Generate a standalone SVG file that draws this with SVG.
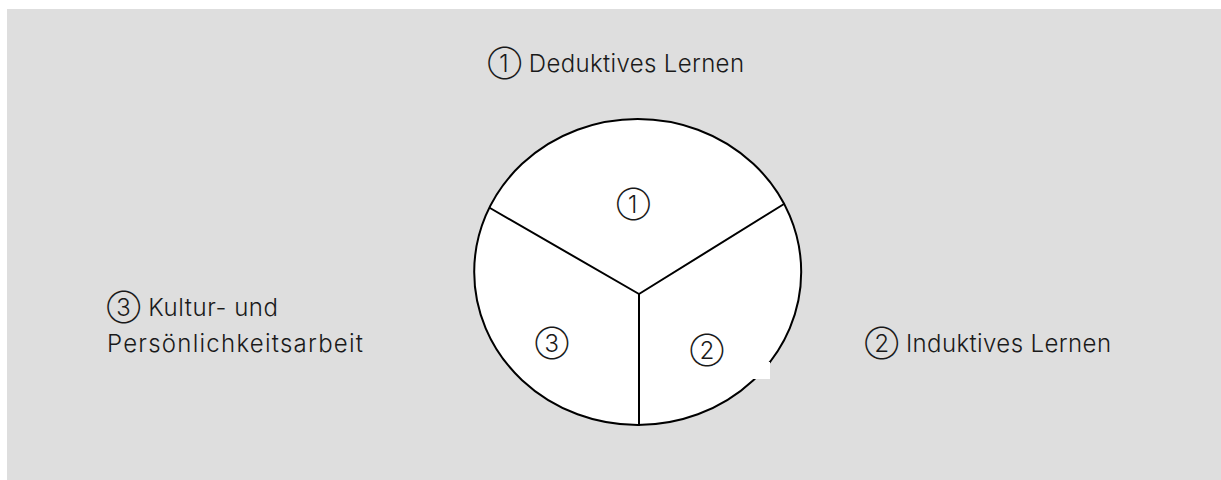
<svg xmlns="http://www.w3.org/2000/svg" width="1221" height="480" viewBox="0 0 1221 480">
  <style>
    .lbl { font-family: "Inter", "Liberation Sans", "DejaVu Sans", sans-serif; font-weight: 300; font-size: 24px; fill: #1a1a1a; }
    .num { font-family: "Inter", "Liberation Sans", "DejaVu Sans", sans-serif; font-weight: 300; font-size: 24px; fill: #1a1a1a; text-anchor: middle; dominant-baseline: central; }
    .edge { stroke: #000; stroke-width: 2; fill: none; stroke-linecap: round; }
  </style>
  <rect x="7" y="9" width="1214" height="471" fill="#dedede"/>
  <g id="pie">
    <ellipse cx="637.7" cy="272" rx="163.5" ry="153" fill="#fff" stroke="#000" stroke-width="2"/>
    <rect x="750" y="362" width="20" height="17" fill="#fff"/>
  </g>
  <g id="connectors">
    <line class="edge" x1="639" y1="294" x2="490" y2="208"/>
    <line class="edge" x1="639" y1="294" x2="784" y2="204"/>
    <line class="edge" x1="639" y1="294" x2="639" y2="425"/>
  </g>
  <g id="seg1"><text class="num" x="633.5" y="204">①</text></g>
  <g id="seg2"><text class="num" x="707" y="350">②</text></g>
  <g id="seg3"><text class="num" x="552" y="343">③</text></g>
  <g id="label1"><text class="lbl" x="488" y="72" textLength="256" lengthAdjust="spacing">① Deduktives Lernen</text></g>
  <g id="label2"><text class="lbl" x="865" y="352" textLength="246" lengthAdjust="spacing">② Induktives Lernen</text></g>
  <g id="label3">
    <text class="lbl" x="107" y="316" textLength="171" lengthAdjust="spacing">③ Kultur- und</text>
    <text class="lbl" x="107" y="352" textLength="256" lengthAdjust="spacing">Persönlichkeitsarbeit</text>
  </g>
</svg>
